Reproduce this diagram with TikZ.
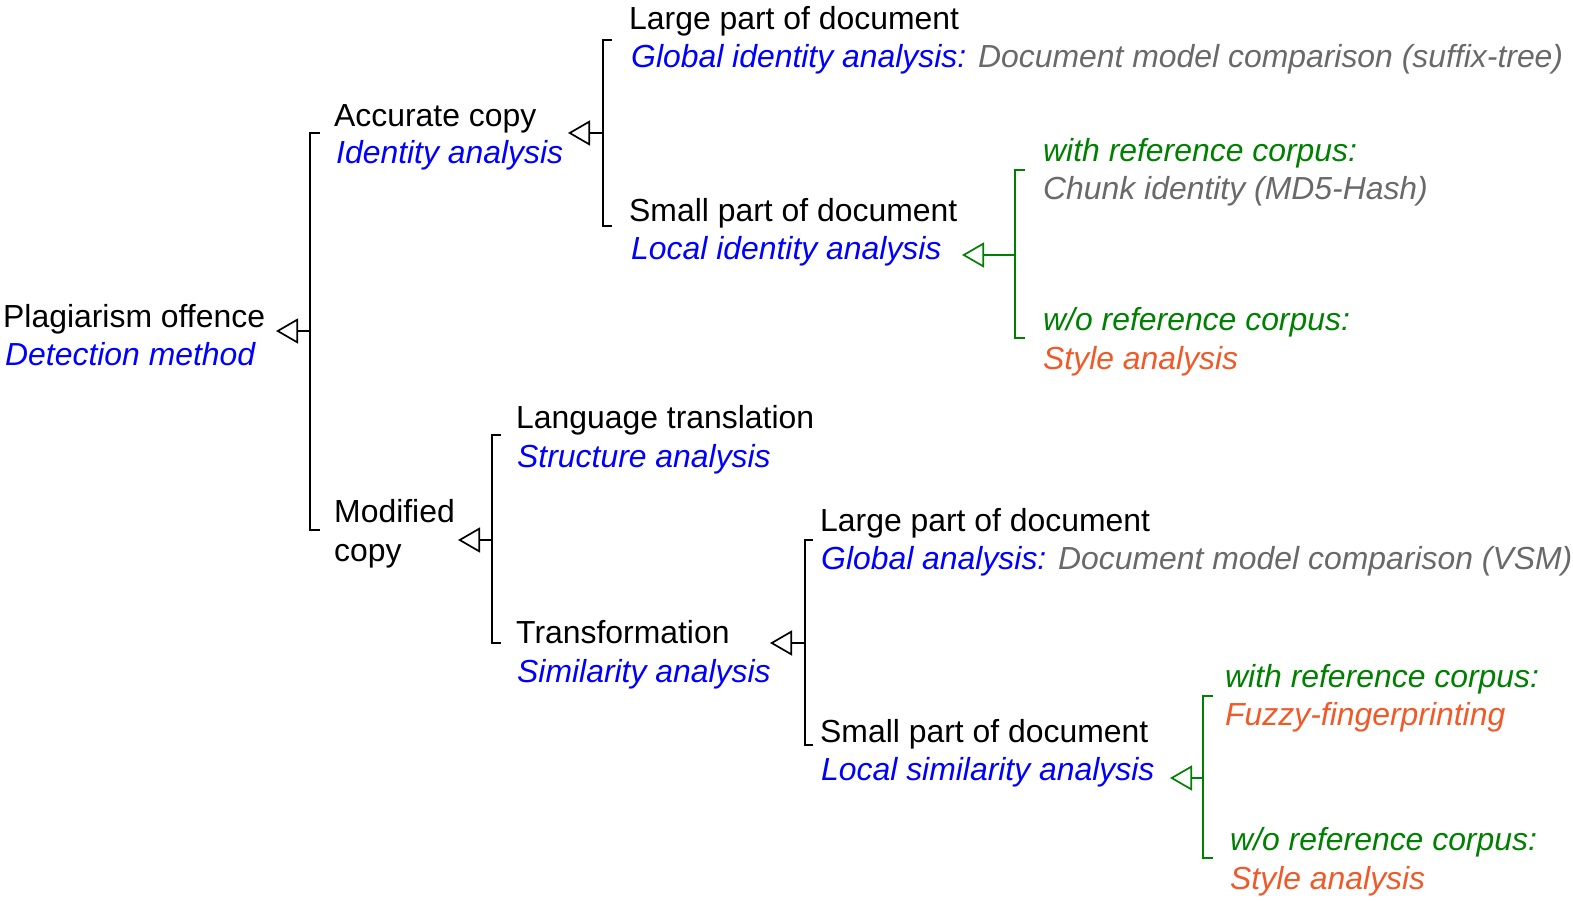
\documentclass[tikz,border=0pt]{standalone}
\usepackage{fontspec}
\setmainfont{Liberation Sans}
\usetikzlibrary{arrows.meta}
\definecolor{cblue}{RGB}{0,0,255}
\definecolor{cgreen}{RGB}{0,128,0}
\definecolor{cgray}{RGB}{105,105,105}
\definecolor{corange}{RGB}{240,90,40}
\begin{document}
\begin{tikzpicture}[x=1pt,y=-1pt,
  lbl/.style={anchor=base west,inner sep=0pt,font=\fontsize{31.9}{38}\selectfont},
  ilbl/.style={lbl,font=\fontsize{31.9}{38}\selectfont\itshape},
  bl/.style={ilbl,text=cblue},
  gr/.style={ilbl,text=cgreen},
  og/.style={ilbl,text=corange},
  gy/.style={ilbl,text=cgray},
  brk/.style={line width=1.7pt},
  arr/.style={line width=1.7pt,-{Triangle[open,length=22pt,width=25pt,line width=1.7pt]}}]
\useasboundingbox (0,0) rectangle (1573,901);

% ---- texts
\node[lbl] (p1) at (3,327) {Plagiarism offence};
\node[bl]  (p2) at (5,365) {Detection method};

\node[lbl] (a1) at (334,127) {Accurate copy};
\node[bl]  (a2) at (336,164) {Identity analysis};

\node[lbl] (al1) at (629,30) {Large part of document};
\node[bl]  (al2) at (631,68) {Global identity analysis: \textcolor{cgray}{Document model comparison (suffix-tree)}};
\node[lbl] (as1) at (629,222) {Small part of document};
\node[bl]  (as2) at (631,259) {Local identity analysis};

\node[gr] (aw1) at (1043,162) {with reference corpus:};
\node[gy] (aw2) at (1043,200) {Chunk identity (MD5-Hash)};
\node[gr] (ao1) at (1043,330) {w/o reference corpus:};
\node[og] (ao2) at (1043,369) {Style analysis};

\node[lbl] (m1) at (334,522) {Modified};
\node[lbl] (m2) at (334,561) {copy};

\node[lbl] (ml1) at (516,428) {Language translation};
\node[bl]  (ml2) at (517,467) {Structure analysis};
\node[lbl] (mt1) at (516,643) {Transformation};
\node[bl]  (mt2) at (517,682) {Similarity analysis};

\node[lbl] (tl1) at (820,531) {Large part of document};
\node[bl]  (tl2) at (821,569) {Global analysis: \textcolor{cgray}{Document model comparison (VSM)}};
\node[lbl] (ts1) at (820,742) {Small part of document};
\node[bl]  (ts2) at (821,780) {Local similarity analysis};

\node[gr] (tw1) at (1225,687) {with reference corpus:};
\node[og] (tw2) at (1225,725) {Fuzzy-fingerprinting};
\node[gr] (to1) at (1230,850) {w/o reference corpus:};
\node[og] (to2) at (1230,889) {Style analysis};

% ---- bracket coordinates
\coordinate (b0t) at (320,133); \coordinate (b0u) at (310,133);
\coordinate (b0l) at (310,530); \coordinate (b0b) at (320,530);
\coordinate (b0m) at (310,331); \coordinate (t0) at (276,331);

\coordinate (b1t) at (612,40); \coordinate (b1u) at (603,40);
\coordinate (b1l) at (603,226); \coordinate (b1b) at (612,226);
\coordinate (b1m) at (603,133); \coordinate (t1) at (568,133);

\coordinate (b2t) at (1025,170); \coordinate (b2u) at (1015,170);
\coordinate (b2l) at (1015,338); \coordinate (b2b) at (1025,338);
\coordinate (b2m) at (1015,255); \coordinate (t2) at (962,255);

\coordinate (b3t) at (501,435); \coordinate (b3u) at (492,435);
\coordinate (b3l) at (492,643); \coordinate (b3b) at (501,643);
\coordinate (b3m) at (492,540); \coordinate (t3) at (458,540);

\coordinate (b4t) at (813,540); \coordinate (b4u) at (805,540);
\coordinate (b4l) at (805,745); \coordinate (b4b) at (813,745);
\coordinate (b4m) at (805,643); \coordinate (t4) at (770,643);

\coordinate (b5t) at (1213,696); \coordinate (b5u) at (1203,696);
\coordinate (b5l) at (1203,858); \coordinate (b5b) at (1213,858);
\coordinate (b5m) at (1203,778); \coordinate (t5) at (1170,778);

% ---- brackets and arrows
\draw[brk] (b0t) -- (b0u) -- (b0l) -- (b0b);
\draw[arr] (b0m) -- (t0);
\draw[brk] (b1t) -- (b1u) -- (b1l) -- (b1b);
\draw[arr] (b1m) -- (t1);
\draw[brk,cgreen] (b2t) -- (b2u) -- (b2l) -- (b2b);
\draw[arr,cgreen] (b2m) -- (t2);
\draw[brk] (b3t) -- (b3u) -- (b3l) -- (b3b);
\draw[arr] (b3m) -- (t3);
\draw[brk] (b4t) -- (b4u) -- (b4l) -- (b4b);
\draw[arr] (b4m) -- (t4);
\draw[brk,cgreen] (b5t) -- (b5u) -- (b5l) -- (b5b);
\draw[arr,cgreen] (b5m) -- (t5);
\end{tikzpicture}
\end{document}
